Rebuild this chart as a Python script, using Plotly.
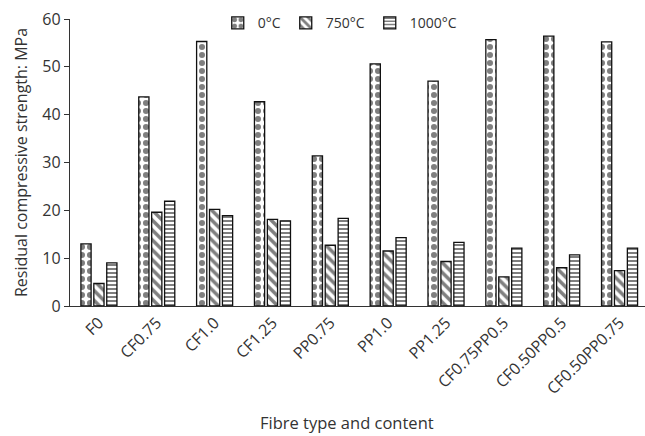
import plotly.graph_objects as go

categories = ["F0", "CF0.75", "CF1.0", "CF1.25", "PP0.75", "PP1.0", "PP1.25",
              "CF0.75PP0.5", "CF0.50PP0.5", "CF0.50PP0.75"]
series_names = ["0°C", "750°C", "1000°C"]
v0 = [13.0, 43.7, 55.3, 42.7, 31.4, 50.6, 47.0, 55.7, 56.4, 55.2]
v750 = [4.7, 19.6, 20.2, 18.1, 12.7, 11.5, 9.3, 6.1, 8.0, 7.4]
v1000 = [9.0, 21.9, 18.9, 17.8, 18.3, 14.3, 13.3, 12.1, 10.7, 12.1]
y_ticks = [0, 10, 20, 30, 40, 50, 60]

FONT = "Open Sans"
TXT = "#333333"

patterns = [
    dict(shape=".", size=8, solidity=0.45, fgcolor="black", bgcolor="white"),
    dict(shape="\\", size=7, solidity=0.5, fgcolor="black", bgcolor="white"),
    dict(shape="-", size=4, solidity=0.5, fgcolor="black", bgcolor="white"),
]

fig = go.Figure()
for name, vals, pat in zip(series_names, [v0, v750, v1000], patterns):
    fig.add_trace(go.Bar(
        x=categories, y=vals, name=name,
        marker=dict(color="white", pattern=pat,
                    line=dict(color="#111111", width=1.3)),
    ))

fig.update_layout(
    width=645, height=436,
    margin=dict(l=70, r=0, t=19, b=130),
    paper_bgcolor="white", plot_bgcolor="white",
    font=dict(family=FONT, color=TXT, size=14),
    barmode="group", bargap=0.33, bargroupgap=0.21,
    showlegend=True,
    legend=dict(orientation="h", x=0.47, xanchor="center", y=0.985, yanchor="middle",
                font=dict(size=14, family=FONT, color=TXT),
                itemwidth=30, tracegroupgap=0, bgcolor="rgba(0,0,0,0)"),
    xaxis=dict(range=[-0.5, 9.44], showline=True, linecolor="#333333", linewidth=1.3,
               ticks="", tickangle=-45, tickfont=dict(size=16, family=FONT, color=TXT),
               showgrid=False),
    yaxis=dict(range=[0, 60], tickvals=y_ticks, showline=True, linecolor="#333333",
               linewidth=1.3, ticks="outside", ticklen=5, tickcolor="#333333",
               tickfont=dict(size=16, family=FONT, color=TXT), showgrid=False,
               zeroline=False,
               title=dict(text="Residual compressive strength: MPa",
                          font=dict(size=16, family=FONT, color=TXT), standoff=10)),
    annotations=[dict(text="Fibre type and content", xref="paper", yref="paper",
                      x=(347 - 70) / 575, y=-(422 - 306) / 287, xanchor="center",
                      yanchor="middle", showarrow=False,
                      font=dict(size=16.5, family=FONT, color=TXT))],
)

fig.write_html("out.html", config={"displayModeBar": False},
               post_script="document.body.style.margin='0';")
